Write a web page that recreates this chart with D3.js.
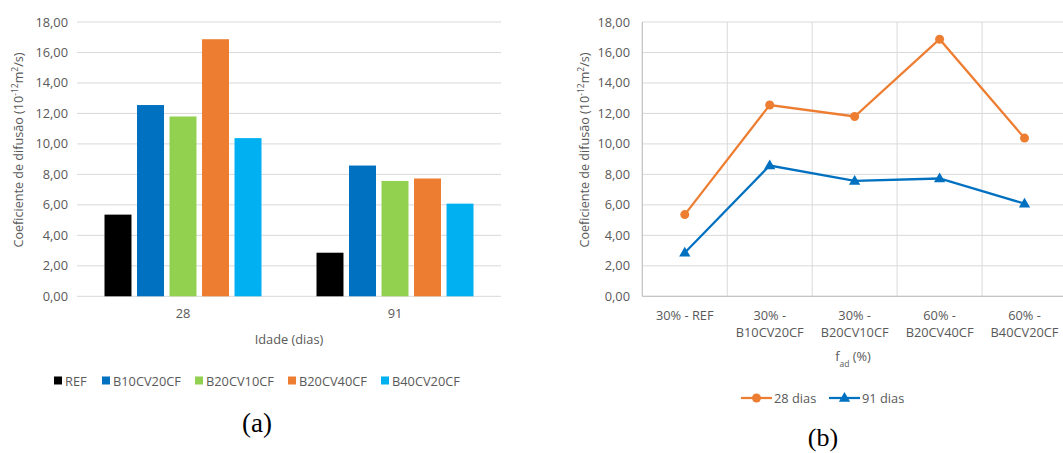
<!DOCTYPE html>
<html><head><meta charset="utf-8">
<script src="https://cdn.jsdelivr.net/npm/d3@7"></script>
<style>body{margin:0;background:#fff}svg{display:block}text{font-family:"Open Sans",sans-serif;fill:#595959}</style>
</head><body><svg id="c" width="1063" height="453"></svg>
<script>
const ages = ["28", "91"];
const mixes = ["REF", "B10CV20CF", "B20CV10CF", "B20CV40CF", "B40CV20CF"];
const mixColors = ["#000000", "#0070C0", "#92D050", "#ED7D31", "#00B0F0"];
const values28 = [5.36, 12.55, 11.8, 16.87, 10.38];
const values91 = [2.86, 8.58, 7.57, 7.73, 6.08];
const lineCats = [["30% - REF"], ["30% -", "B10CV20CF"], ["30% -", "B20CV10CF"], ["60% -", "B20CV40CF"], ["60% -", "B40CV20CF"]];
const seriesNames = ["28 dias", "91 dias"];
const seriesColors = ["#ED7D31", "#0070C0"];
const yTicks = [0, 2, 4, 6, 8, 10, 12, 14, 16, 18];
const fmt = v => v.toFixed(2).replace(".", ",");

const svg = d3.select("#c");
const FS = 12.8;

function yTitle(g, x, yc) {
  const t = g.append("text").attr("transform", `translate(${x},${yc}) rotate(-90)`)
    .attr("text-anchor", "middle").attr("font-size", 12.6);
  t.append("tspan").text("Coeficiente de difusão (10");
  t.append("tspan").attr("baseline-shift", "super").attr("font-size", 8.5).text("-12");
  t.append("tspan").text("m");
  t.append("tspan").attr("baseline-shift", "super").attr("font-size", 8.5).text("2");
  t.append("tspan").text("/s)");
}

// ---------- Chart (a) ----------
const ya = d3.scaleLinear().domain([0, 18]).range([296.3, 22]);
const x0 = d3.scaleBand().domain(ages).range([77, 501]).padding(0);
const x1 = d3.scaleBand().domain(mixes).range([27.5, 184.5]).paddingInner(0.17).paddingOuter(0);
const ga = svg.append("g");
ga.selectAll("line.g").data(yTicks).join("line")
  .attr("x1", 77).attr("x2", 501).attr("y1", d => ya(d)).attr("y2", d => ya(d))
  .attr("stroke", "#d9d9d9").attr("stroke-width", 1);
ga.selectAll("text.t").data(yTicks).join("text")
  .attr("x", 68).attr("y", d => ya(d) + 4.5).attr("text-anchor", "end").attr("font-size", FS).text(fmt);
const dataA = ages.map((a, i) => ({age: a, vals: i === 0 ? values28 : values91}));
dataA.forEach(d => {
  ga.selectAll(null).data(d.vals).join("rect")
    .attr("x", (v, j) => x0(d.age) + x1(mixes[j]))
    .attr("width", x1.bandwidth())
    .attr("y", v => ya(v)).attr("height", v => ya(0) - ya(v))
    .attr("fill", (v, j) => mixColors[j]);
});
ga.selectAll("text.x").data(ages).join("text")
  .attr("x", d => x0(d) + x0.bandwidth() / 2).attr("y", 317.5).attr("text-anchor", "middle")
  .attr("font-size", FS).text(d => d);
ga.append("text").attr("x", 289).attr("y", 343.5).attr("text-anchor", "middle").attr("font-size", FS).text("Idade (dias)");
yTitle(ga, 23, 150);
const legX = [54, 102, 195, 288, 381];
mixes.forEach((m, i) => {
  ga.append("rect").attr("x", legX[i]).attr("y", 376.5).attr("width", 8).attr("height", 8).attr("fill", mixColors[i]);
  ga.append("text").attr("x", legX[i] + 11).attr("y", 385.5).attr("font-size", FS).text(m);
});
ga.append("text").attr("x", 257).attr("y", 432).attr("text-anchor", "middle")
  .style("font-family", "'Liberation Serif', serif").style("fill", "#000").attr("font-size", 27).text("(a)");

// ---------- Chart (b) ----------
const gb = svg.append("g");
const yb = d3.scaleLinear().domain([0, 18]).range([296.3, 22]);
const xb = d3.scaleBand().domain(d3.range(lineCats.length)).range([642.3, 1067]).padding(0);
gb.selectAll("line.h").data(yTicks).join("line")
  .attr("x1", 642.3).attr("x2", 1067).attr("y1", d => yb(d)).attr("y2", d => yb(d))
  .attr("stroke", "#d9d9d9");
gb.selectAll("line.v").data(d3.range(lineCats.length + 1)).join("line")
  .attr("x1", d => 642.3 + d * xb.bandwidth()).attr("x2", d => 642.3 + d * xb.bandwidth())
  .attr("y1", 22).attr("y2", 296.3).attr("stroke", "#d9d9d9");
gb.append("line").attr("x1", 642.3).attr("x2", 1067).attr("y1", 296.3).attr("y2", 296.3).attr("stroke", "#bfbfbf");
gb.append("line").attr("x1", 642.3).attr("x2", 642.3).attr("y1", 22).attr("y2", 296.3).attr("stroke", "#bfbfbf");
gb.selectAll("text.t").data(yTicks).join("text")
  .attr("x", 630).attr("y", d => yb(d) + 4.5).attr("text-anchor", "end").attr("font-size", FS).text(fmt);
lineCats.forEach((lines, i) => {
  const t = gb.append("text").attr("text-anchor", "middle").attr("font-size", FS);
  lines.forEach((l, k) => t.append("tspan").attr("x", xb(i) + xb.bandwidth() / 2).attr("y", 319.5 + k * 17).text(l));
});
const ft = gb.append("text").attr("x", 853).attr("y", 361).attr("text-anchor", "middle").attr("font-size", FS);
ft.append("tspan").text("f");
ft.append("tspan").attr("baseline-shift", "sub").attr("font-size", 8.5).text("ad");
ft.append("tspan").text("\u00A0(%)");
yTitle(gb, 589, 150);
const lineData = [values28.slice(0, 5), values91.slice(0, 5)];
const lineGen = d3.line().x((v, i) => xb(i) + xb.bandwidth() / 2).y(v => yb(v));
const tri = d3.symbol().type(d3.symbolTriangle).size(55);
lineData.forEach((vals, s) => {
  gb.append("path").attr("d", lineGen(vals)).attr("fill", "none").attr("stroke", seriesColors[s]).attr("stroke-width", 2.25);
  vals.forEach((v, i) => {
    const cx = xb(i) + xb.bandwidth() / 2, cy = yb(v);
    if (s === 0) gb.append("circle").attr("cx", cx).attr("cy", cy).attr("r", 4.5).attr("fill", seriesColors[s]);
    else gb.append("path").attr("d", tri()).attr("transform", `translate(${cx},${cy + 0.5})`).attr("fill", seriesColors[s]);
  });
});
const legB = [741, 829];
seriesNames.forEach((n, s) => {
  gb.append("line").attr("x1", legB[s]).attr("x2", legB[s] + 31).attr("y1", 398).attr("y2", 398)
    .attr("stroke", seriesColors[s]).attr("stroke-width", 2.25);
  if (s === 0) gb.append("circle").attr("cx", legB[s] + 15.5).attr("cy", 398).attr("r", 4.5).attr("fill", seriesColors[s]);
  else gb.append("path").attr("d", tri()).attr("transform", `translate(${legB[s] + 15.5},398.5)`).attr("fill", seriesColors[s]);
  gb.append("text").attr("x", legB[s] + 33).attr("y", 402.5).attr("font-size", FS).text(n);
});
gb.append("text").attr("x", 823).attr("y", 446).attr("text-anchor", "middle")
  .style("font-family", "'Liberation Serif', serif").style("fill", "#000").attr("font-size", 26).text("(b)");
</script></body></html>
